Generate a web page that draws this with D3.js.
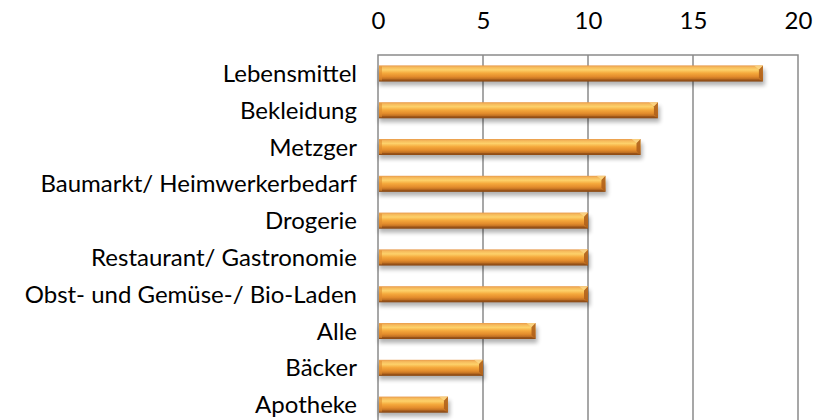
<!DOCTYPE html>
<html>
<head>
<meta charset="utf-8">
<script src="https://cdn.jsdelivr.net/npm/d3@7"></script>
<style>
  html, body { margin: 0; padding: 0; background: #fff; }
  svg text { font-family: Lato, "Open Sans", sans-serif; fill: #000; }
</style>
</head>
<body>
<div id="chart"></div>
<script>
// Daten
var categories = ["Lebensmittel", "Bekleidung", "Metzger", "Baumarkt/ Heimwerkerbedarf",
  "Drogerie", "Restaurant/ Gastronomie", "Obst- und Gemüse-/ Bio-Laden", "Alle", "Bäcker", "Apotheke"];
var values = [18.33, 13.33, 12.5, 10.83, 10, 10, 10, 7.5, 5, 3.33];
var tickValues = [0, 5, 10, 15, 20];

var width = 827, height = 420;
var plot = { left: 378, right: 798, top: 55, bottom: 423 };

var svg = d3.select("#chart").append("svg")
  .attr("width", width)
  .attr("height", height);

var defs = svg.append("defs");

// Verlauf fuer die Balken
var grad = defs.append("linearGradient")
  .attr("id", "barGrad").attr("x1", 0).attr("y1", 0).attr("x2", 0).attr("y2", 1);
[[0, "#e99a4c"], [0.12, "#f6bb5c"], [0.28, "#fdd16a"], [0.48, "#f5a93c"], [0.7, "#e38c2c"], [0.88, "#b86a20"], [1, "#8e4e16"]]
  .forEach(function (s) { grad.append("stop").attr("offset", s[0]).attr("stop-color", s[1]); });

var blur = defs.append("filter").attr("id", "shadow")
  .attr("x", "-5%").attr("y", "-50%").attr("width", "110%").attr("height", "200%");
blur.append("feGaussianBlur").attr("stdDeviation", 2);

var x = d3.scaleLinear().domain([0, 20]).range([plot.left, plot.right]);
var y = d3.scaleBand().domain(categories)
  .range([plot.top, plot.bottom])
  .paddingInner(0.565)
  .paddingOuter(0.2825);

// Gitterlinien
svg.append("g")
  .selectAll("line")
  .data(tickValues.filter(function (d) { return d > 0 && d < 20; }))
  .enter()
  .append("line")
  .attr("x1", function (d) { return x(d); })
  .attr("x2", function (d) { return x(d); })
  .attr("y1", plot.top)
  .attr("y2", height)
  .attr("stroke", "#8a8a8a")
  .attr("stroke-width", 1.5);

// Rahmen (oben, links, rechts)
svg.append("path")
  .attr("d", "M" + x(0) + "," + height + "V" + plot.top + "H" + x(20) + "V" + height)
  .attr("fill", "none")
  .attr("stroke", "#8a8a8a")
  .attr("stroke-width", 1.5);

// Achse oben
var axis = svg.append("g")
  .attr("transform", "translate(0," + plot.top + ")")
  .call(d3.axisTop(x).tickValues(tickValues).tickSize(0).tickPadding(26));
axis.select(".domain").remove();
axis.selectAll("text")
  .attr("font-size", 24)
  .attr("font-family", "Lato, 'Open Sans', sans-serif")
  .attr("fill", "#000");

// Balken
var bars = svg.append("g")
  .selectAll("g")
  .data(categories)
  .enter()
  .append("g")
  .attr("class", "bar");

var bw = y.bandwidth();
var bev = 4;

bars.append("rect")
  .attr("x", x(0) + 1)
  .attr("y", function (d) { return y(d) + 4; })
  .attr("width", function (d, i) { return x(values[i]) - x(0) + 1; })
  .attr("height", bw)
  .attr("fill", "#000")
  .attr("opacity", 0.3)
  .attr("filter", "url(#shadow)");

bars.append("rect")
  .attr("x", x(0) + 1)
  .attr("y", function (d) { return y(d); })
  .attr("width", function (d, i) { return x(values[i]) - x(0) - 1; })
  .attr("height", bw)
  .attr("fill", "url(#barGrad)");

// Abschraegung rechts
bars.append("path")
  .attr("d", function (d, i) {
    var x1 = x(values[i]), y0 = y(d), y1 = y(d) + bw;
    return "M" + (x1 - bev) + "," + (y0 + bev) + "L" + x1 + "," + y0 + "L" + x1 + "," + y1 +
      "L" + (x1 - bev) + "," + (y1 - bev) + "Z";
  })
  .attr("fill", "#b0621c")
  .attr("opacity", 0.9);

// Abschraegung oben rechts (hell)
bars.append("path")
  .attr("d", function (d, i) {
    var x1 = x(values[i]), y0 = y(d);
    return "M" + (x1 - bev - 5) + "," + y0 + "L" + x1 + "," + y0 + "L" + (x1 - bev) + "," + (y0 + bev) + "Z";
  })
  .attr("fill", "#fbd88a")
  .attr("opacity", 0.8);

// Abschraegung unten (dunkel)
bars.append("path")
  .attr("d", function (d, i) {
    var x0 = x(0) + 1, x1 = x(values[i]), y1 = y(d) + bw;
    return "M" + x0 + "," + (y1 - 2) + "L" + (x1 - bev) + "," + (y1 - 2) + "L" + x1 + "," + y1 +
      "L" + x0 + "," + y1 + "Z";
  })
  .attr("fill", "#8a4814")
  .attr("opacity", 0.6);

// Kante links
bars.append("rect")
  .attr("x", x(0) + 1)
  .attr("y", function (d) { return y(d) + 1; })
  .attr("width", 3)
  .attr("height", bw - 2)
  .attr("fill", "#e08a2e")
  .attr("opacity", 0.6);

// Kategorienbeschriftung
svg.append("g")
  .selectAll("text")
  .data(categories)
  .enter()
  .append("text")
  .attr("x", 357)
  .attr("y", function (d) { return y(d) + bw / 2; })
  .attr("dy", "0.36em")
  .attr("text-anchor", "end")
  .attr("font-size", 24)
  .text(function (d) { return d; });
</script>
</body>
</html>
